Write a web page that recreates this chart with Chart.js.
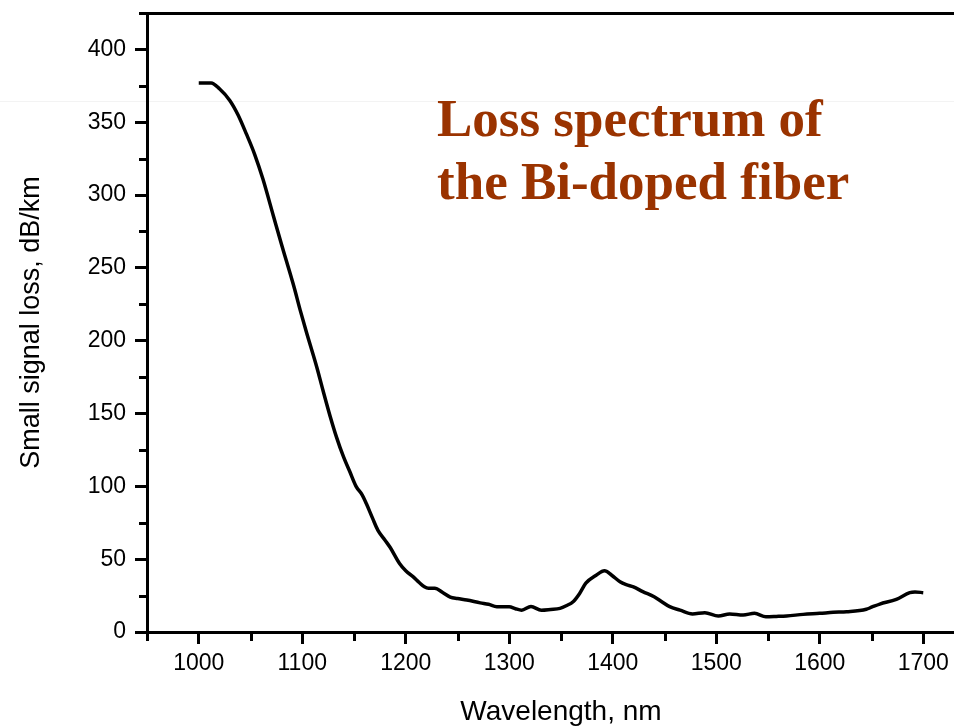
<!DOCTYPE html>
<html>
<head>
<meta charset="utf-8">
<script src="https://cdn.jsdelivr.net/npm/chart.js@4"></script>
<style>
  html, body { margin: 0; padding: 0; background: #fff; overflow: hidden; }
  #wrap { position: relative; width: 954px; height: 727px; overflow: hidden; }
  #faint { position: absolute; left: 0; top: 101px; width: 954px; height: 1px; background: #f3f3f3; }
  #cv { position: absolute; left: 0; top: 0; }
  #title { position: absolute; left: 437px; top: 87px; font-family: "Liberation Serif", "Times New Roman", serif;
           font-weight: bold; font-size: 53px; line-height: 63px; color: #9a3300; white-space: nowrap; }
</style>
</head>
<body>
<div id="wrap">
  <div id="faint"></div>
  <canvas id="cv" width="1000" height="727"></canvas>
  <div id="title">Loss spectrum of<br>the Bi-doped fiber</div>
</div>
<script>
// ---- data ----
const wavelength = [1000,1012,1020,1030,1038,1046,1054,1062,1072,1080,1085,1092,1098,1104,1114,1120,1127,1133,1140,1146,1152,1158,1162,1168,1173,1180,1185,1194,1200,1207,1213,1218,1222,1228,1236,1243,1250,1259,1272,1280,1288,1300,1306,1312,1321,1331,1340,1349,1355,1362,1368,1374,1384,1392,1399,1407,1413,1420,1429,1440,1447,1455,1465,1477,1489,1502,1513,1526,1537,1548,1558,1568,1584,1600,1613,1626,1645,1650,1658,1674,1687,1692,1700];
const loss = [377,377,373,365,355,342,328,311,286,266,254,237,221,206,182,166,148,134,120,110,100,94,88,78,70,63,58,47,42,38,34,31,30,30,27,24,23,22,20,19,17.4,17.4,16,15,17.5,15,15.5,16.2,18,21,26.5,33.5,39,42,39,34.5,32.5,31,27.7,24.2,21,17.4,15,12.4,13.3,11,12.4,11.7,12.8,10.5,10.7,11,12.1,12.8,13.5,13.9,15.6,17,19.2,22.4,27,27.5,27];

const xTicks = [1000,1100,1200,1300,1400,1500,1600,1700];
const xMinorTicks = [950,1050,1150,1250,1350,1450,1550,1650,1750];
const yTicks = [0,50,100,150,200,250,300,350,400];
const yMinorTicks = [25,75,125,175,225,275,325,375,425];

const xTitle = "Wavelength, nm";
const yTitle = "Small signal loss, dB/km";

const points = wavelength.map((w, i) => ({ x: w, y: loss[i] }));

const tickFont = { family: "'Liberation Sans', Arial, sans-serif", size: 23 };
const xTitleFont = { family: "'Liberation Sans', Arial, sans-serif", size: 28, lineHeight: 1 };
const yTitleFont = { family: "'Liberation Sans', Arial, sans-serif", size: 27, lineHeight: 1 };

const minorTicks = {
  id: 'minorTicks',
  afterDraw(chart) {
    const ctx = chart.ctx;
    const xs = chart.scales.x, ys = chart.scales.y;
    const ca = chart.chartArea;
    ctx.save();
    ctx.strokeStyle = '#000';
    ctx.lineWidth = 3;
    ctx.beginPath();
    xMinorTicks.forEach(v => {
      const px = Math.round(xs.getPixelForValue(v)) + 0.5;
      ctx.moveTo(px, ca.bottom);
      ctx.lineTo(px, ca.bottom + 9);
    });
    yMinorTicks.forEach(v => {
      const py = Math.round(ys.getPixelForValue(v)) + 0.5;
      ctx.moveTo(ca.left, py);
      ctx.lineTo(ca.left - 8, py);
    });
    ctx.stroke();
    ctx.restore();
  }
};

function noPad(s) { s.paddingTop = 0; s.paddingBottom = 0; s.paddingLeft = 0; s.paddingRight = 0; }

new Chart(document.getElementById('cv'), {
  type: 'line',
  data: {
    datasets: [{
      data: points,
      borderColor: '#000',
      borderWidth: 3.5,
      pointRadius: 0,
      cubicInterpolationMode: 'monotone',
      fill: false
    }]
  },
  options: {
    responsive: false,
    animation: false,
    devicePixelRatio: 1,
    layout: { autoPadding: false, padding: { left: 0, top: 13, right: 25, bottom: 0 } },
    plugins: { legend: { display: false }, tooltip: { enabled: false } },
    scales: {
      x: {
        type: 'linear', position: 'bottom', min: 950, max: 1750,
        afterFit: s => { s.height = 95; noPad(s); },
        afterBuildTicks: s => { s.ticks = xTicks.map(v => ({ value: v })); },
        grid: { drawOnChartArea: false, drawTicks: true, tickLength: 12, tickWidth: 3, tickColor: '#000' },
        border: { display: true, width: 3, color: '#000' },
        ticks: { font: tickFont, color: '#000', padding: 6, maxRotation: 0, autoSkip: false, callback: v => String(v) },
        title: { display: true, text: xTitle, font: xTitleFont, color: '#000', padding: { top: 0, bottom: 1 } }
      },
      x2: {
        type: 'linear', position: 'top', min: 950, max: 1750,
        afterFit: s => { s.height = 0; noPad(s); },
        grid: { display: false, drawTicks: false },
        border: { display: true, width: 3, color: '#000' },
        ticks: { display: false }
      },
      y: {
        type: 'linear', position: 'left', min: 0, max: 425,
        afterFit: s => { s.width = 147; noPad(s); },
        afterBuildTicks: s => { s.ticks = yTicks.map(v => ({ value: v })); },
        grid: { drawOnChartArea: false, drawTicks: true, tickLength: 12, tickWidth: 3, tickColor: '#000' },
        border: { display: true, width: 3, color: '#000' },
        ticks: { font: tickFont, color: '#000', padding: 9, autoSkip: false, callback: v => String(v) },
        title: { display: true, text: yTitle, font: yTitleFont, color: '#000', padding: { top: 18, bottom: 0 } }
      }
    }
  },
  plugins: [minorTicks]
});
</script>
</body>
</html>
